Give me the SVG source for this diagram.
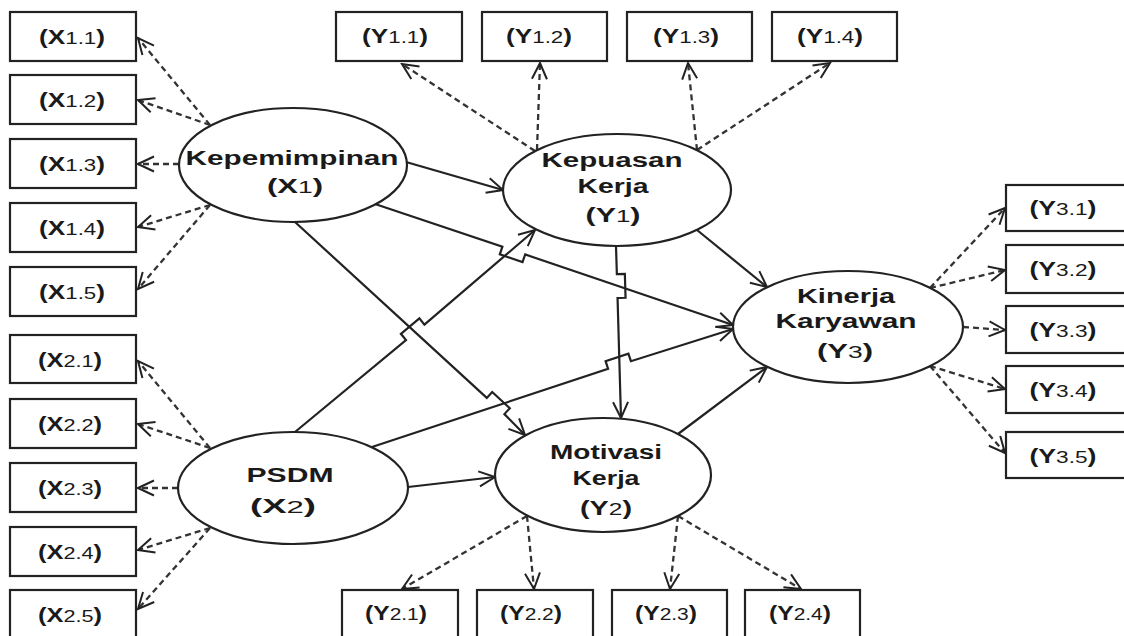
<svg xmlns="http://www.w3.org/2000/svg" width="1124" height="636" viewBox="0 0 1124 636">
<defs>
<marker id="ah" viewBox="-18 -9 20 18" refX="0" refY="0" markerWidth="20" markerHeight="18" markerUnits="userSpaceOnUse" orient="auto">
<path d="M-16,-7.5 L0,0 L-16,7.5" fill="none" stroke="#222" stroke-width="2" stroke-dasharray="none"/>
</marker>
<style>
.box rect{fill:#fff;stroke:#222;stroke-width:2.2}
.node ellipse{fill:#fff;stroke:#222;stroke-width:2.2}
.t{font-family:"Liberation Sans",Arial,sans-serif;font-weight:bold;font-size:20px;fill:#1a1a1a;text-anchor:middle}
.s{font-weight:normal;font-size:17px}
.solid{fill:none;stroke:#222;stroke-width:2.2;marker-end:url(#ah)}
.dash{fill:none;stroke:#333;stroke-width:2.3;stroke-dasharray:6 4;marker-end:url(#ah)}
</style>
</defs>
<rect width="1124" height="636" fill="#fff"/>

<g id="connectors">
<path class="solid" d="M406,162 L503,190"/>
<path class="solid" d="M375,204 L502.4,246.7 L499.8,254.3 L522.5,262.1 L525.2,254.5 L733,325"/>
<path class="solid" d="M295,222 L486.8,397.9 L492.2,392 L509.8,408.2 L504.4,414.1 L525,435"/>
<path class="solid" d="M295,432 L406,340 L400.9,333.8 L419.4,318.4 L424.4,324.6 L535,230"/>
<path class="solid" d="M372,447 L608.1,368.8 L605.6,361.2 L628.4,353.6 L630.9,361.2 L733,329"/>
<path class="solid" d="M408,487 L495,477"/>
<path class="solid" d="M616,246 L616.85,274 L624.85,273.8 L625.55,297.8 L617.55,298 L621,418"/>
<path class="solid" d="M697,230 L767,287"/>
<path class="solid" d="M678,434 L767,367"/>
<path class="dash" d="M210,125 L138,38"/>
<path class="dash" d="M210,125 L138,100"/>
<path class="dash" d="M179,164 L138,164"/>
<path class="dash" d="M210,205 L138,227"/>
<path class="dash" d="M210,205 L138,289"/>
<path class="dash" d="M210,448 L138,361"/>
<path class="dash" d="M210,448 L138,424"/>
<path class="dash" d="M178,488 L138,488"/>
<path class="dash" d="M210,528 L138,550"/>
<path class="dash" d="M210,528 L138,609"/>
<path class="dash" d="M535,151 L402,64"/>
<path class="dash" d="M537,150 L540,63"/>
<path class="dash" d="M697,150 L688,63"/>
<path class="dash" d="M697,150 L830,63"/>
<path class="dash" d="M527,516 L402,589"/>
<path class="dash" d="M527,516 L534,589"/>
<path class="dash" d="M678,516 L670,589"/>
<path class="dash" d="M678,516 L801,589"/>
<path class="dash" d="M930,288 L1005,208"/>
<path class="dash" d="M930,288 L1005,270"/>
<path class="dash" d="M963,327 L1005,330"/>
<path class="dash" d="M930,366 L1005,389"/>
<path class="dash" d="M930,366 L1005,453"/>
</g>

<g id="X1" class="node">
<ellipse cx="293" cy="165" rx="114" ry="57"/>
<text class="t" x="292" y="165" textLength="213" lengthAdjust="spacingAndGlyphs">Kepemimpinan</text>
<text class="t" x="295" y="193" textLength="56" lengthAdjust="spacingAndGlyphs">(X<tspan class="s">1</tspan>)</text>
</g>
<g id="X2" class="node">
<ellipse cx="293" cy="488" rx="115" ry="56"/>
<text class="t" x="290" y="482" textLength="87" lengthAdjust="spacingAndGlyphs">PSDM</text>
<text class="t" x="283" y="513" textLength="66" lengthAdjust="spacingAndGlyphs">(X<tspan class="s">2</tspan>)</text>
</g>
<g id="Y1" class="node">
<ellipse cx="617" cy="190" rx="114" ry="56"/>
<text class="t" x="612" y="167" textLength="141" lengthAdjust="spacingAndGlyphs">Kepuasan</text>
<text class="t" x="613" y="193" textLength="71" lengthAdjust="spacingAndGlyphs">Kerja</text>
<text class="t" x="613" y="222" textLength="55" lengthAdjust="spacingAndGlyphs">(Y<tspan class="s">1</tspan>)</text>
</g>
<g id="Y2" class="node">
<ellipse cx="603" cy="475" rx="108" ry="57"/>
<text class="t" x="606" y="459" textLength="112" lengthAdjust="spacingAndGlyphs">Motivasi</text>
<text class="t" x="606" y="485" textLength="67" lengthAdjust="spacingAndGlyphs">Kerja</text>
<text class="t" x="606" y="515" textLength="52" lengthAdjust="spacingAndGlyphs">(Y<tspan class="s">2</tspan>)</text>
</g>
<g id="Y3" class="node">
<ellipse cx="848" cy="327" rx="115" ry="56"/>
<text class="t" x="846" y="303" textLength="98" lengthAdjust="spacingAndGlyphs">Kinerja</text>
<text class="t" x="846" y="328" textLength="141" lengthAdjust="spacingAndGlyphs">Karyawan</text>
<text class="t" x="845" y="358" textLength="56" lengthAdjust="spacingAndGlyphs">(Y<tspan class="s">3</tspan>)</text>
</g>

<g id="X1_1" class="box"><rect x="10" y="12" width="126" height="49"/><text class="t" x="72" y="44" textLength="66" lengthAdjust="spacingAndGlyphs">(X<tspan class="s">1.1</tspan>)</text></g>
<g id="X1_2" class="box"><rect x="10" y="75" width="126" height="49"/><text class="t" x="72" y="107" textLength="66" lengthAdjust="spacingAndGlyphs">(X<tspan class="s">1.2</tspan>)</text></g>
<g id="X1_3" class="box"><rect x="10" y="139" width="126" height="49"/><text class="t" x="72" y="171" textLength="66" lengthAdjust="spacingAndGlyphs">(X<tspan class="s">1.3</tspan>)</text></g>
<g id="X1_4" class="box"><rect x="10" y="203" width="126" height="49"/><text class="t" x="72" y="235" textLength="66" lengthAdjust="spacingAndGlyphs">(X<tspan class="s">1.4</tspan>)</text></g>
<g id="X1_5" class="box"><rect x="10" y="267" width="126" height="49"/><text class="t" x="72" y="299" textLength="66" lengthAdjust="spacingAndGlyphs">(X<tspan class="s">1.5</tspan>)</text></g>
<g id="X2_1" class="box"><rect x="10" y="335" width="126" height="48"/><text class="t" x="70" y="367" textLength="64" lengthAdjust="spacingAndGlyphs">(X<tspan class="s">2.1</tspan>)</text></g>
<g id="X2_2" class="box"><rect x="10" y="399" width="126" height="49"/><text class="t" x="70" y="431" textLength="64" lengthAdjust="spacingAndGlyphs">(X<tspan class="s">2.2</tspan>)</text></g>
<g id="X2_3" class="box"><rect x="10" y="463" width="126" height="49"/><text class="t" x="70" y="495" textLength="64" lengthAdjust="spacingAndGlyphs">(X<tspan class="s">2.3</tspan>)</text></g>
<g id="X2_4" class="box"><rect x="10" y="527" width="126" height="49"/><text class="t" x="70" y="559" textLength="64" lengthAdjust="spacingAndGlyphs">(X<tspan class="s">2.4</tspan>)</text></g>
<g id="X2_5" class="box"><rect x="10" y="590" width="126" height="52"/><text class="t" x="70" y="622" textLength="64" lengthAdjust="spacingAndGlyphs">(X<tspan class="s">2.5</tspan>)</text></g>
<g id="Y1_1" class="box"><rect x="336" y="12" width="126" height="49"/><text class="t" x="395" y="43" textLength="66" lengthAdjust="spacingAndGlyphs">(Y<tspan class="s">1.1</tspan>)</text></g>
<g id="Y1_2" class="box"><rect x="482" y="12" width="125" height="49"/><text class="t" x="539" y="43" textLength="66" lengthAdjust="spacingAndGlyphs">(Y<tspan class="s">1.2</tspan>)</text></g>
<g id="Y1_3" class="box"><rect x="627" y="12" width="125" height="49"/><text class="t" x="686" y="43" textLength="66" lengthAdjust="spacingAndGlyphs">(Y<tspan class="s">1.3</tspan>)</text></g>
<g id="Y1_4" class="box"><rect x="772" y="12" width="125" height="49"/><text class="t" x="830" y="43" textLength="66" lengthAdjust="spacingAndGlyphs">(Y<tspan class="s">1.4</tspan>)</text></g>
<g id="Y2_1" class="box"><rect x="342" y="590" width="116" height="52"/><text class="t" x="396" y="620" textLength="62" lengthAdjust="spacingAndGlyphs">(Y<tspan class="s">2.1</tspan>)</text></g>
<g id="Y2_2" class="box"><rect x="477" y="590" width="116" height="52"/><text class="t" x="531" y="620" textLength="62" lengthAdjust="spacingAndGlyphs">(Y<tspan class="s">2.2</tspan>)</text></g>
<g id="Y2_3" class="box"><rect x="612" y="590" width="115" height="52"/><text class="t" x="666" y="620" textLength="62" lengthAdjust="spacingAndGlyphs">(Y<tspan class="s">2.3</tspan>)</text></g>
<g id="Y2_4" class="box"><rect x="745" y="590" width="115" height="52"/><text class="t" x="800" y="620" textLength="62" lengthAdjust="spacingAndGlyphs">(Y<tspan class="s">2.4</tspan>)</text></g>
<g id="Y3_1" class="box"><rect x="1006" y="185" width="126" height="46"/><text class="t" x="1063" y="215" textLength="67" lengthAdjust="spacingAndGlyphs">(Y<tspan class="s">3.1</tspan>)</text></g>
<g id="Y3_2" class="box"><rect x="1006" y="245" width="126" height="48"/><text class="t" x="1063" y="276" textLength="67" lengthAdjust="spacingAndGlyphs">(Y<tspan class="s">3.2</tspan>)</text></g>
<g id="Y3_3" class="box"><rect x="1006" y="306" width="126" height="47"/><text class="t" x="1063" y="337" textLength="67" lengthAdjust="spacingAndGlyphs">(Y<tspan class="s">3.3</tspan>)</text></g>
<g id="Y3_4" class="box"><rect x="1006" y="366" width="126" height="47"/><text class="t" x="1063" y="397" textLength="67" lengthAdjust="spacingAndGlyphs">(Y<tspan class="s">3.4</tspan>)</text></g>
<g id="Y3_5" class="box"><rect x="1006" y="432" width="126" height="46"/><text class="t" x="1063" y="463" textLength="67" lengthAdjust="spacingAndGlyphs">(Y<tspan class="s">3.5</tspan>)</text></g>
</svg>
